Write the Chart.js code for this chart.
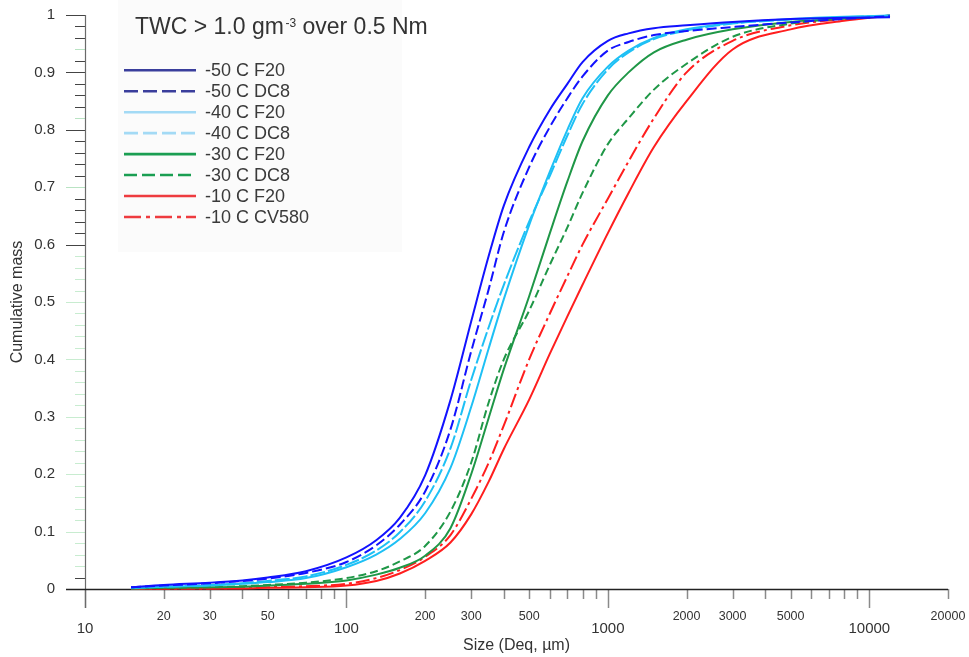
<!DOCTYPE html>
<html>
<head>
<meta charset="utf-8">
<script src="https://cdn.jsdelivr.net/npm/chart.js@4.4.0/dist/chart.umd.min.js"></script>
<style>
  html, body { margin: 0; padding: 0; background: #fff; }
</style>
</head>
<body>
<canvas id="chart" width="969" height="657"></canvas>
<script>
// particle size (Deq, µm) shared by every curve
const sizes = [15, 20, 30, 40, 50, 70, 100, 130, 160, 200, 250, 300, 350, 400, 500, 600, 700, 800, 1000, 1200, 1500, 2000, 3000, 5000, 8000, 12000];

// cumulative mass
const m50F20  = [0.003, 0.007, 0.011, 0.015, 0.020, 0.031, 0.055, 0.085, 0.124, 0.198, 0.329, 0.466, 0.580, 0.668, 0.770, 0.835, 0.880, 0.918, 0.955, 0.968, 0.977, 0.982, 0.988, 0.993, 0.995, 0.996];
const m50DC8  = [0.003, 0.006, 0.010, 0.014, 0.018, 0.028, 0.047, 0.076, 0.112, 0.170, 0.278, 0.414, 0.522, 0.622, 0.735, 0.805, 0.855, 0.893, 0.938, 0.953, 0.965, 0.972, 0.979, 0.987, 0.993, 0.998];
const m40F20  = [0.002, 0.004, 0.006, 0.009, 0.012, 0.019, 0.038, 0.060, 0.087, 0.132, 0.211, 0.317, 0.419, 0.505, 0.634, 0.727, 0.800, 0.855, 0.910, 0.938, 0.960, 0.975, 0.986, 0.993, 0.997, 0.999];
const m40DC8  = [0.002, 0.004, 0.007, 0.010, 0.014, 0.022, 0.042, 0.067, 0.099, 0.153, 0.245, 0.364, 0.456, 0.530, 0.640, 0.720, 0.790, 0.845, 0.905, 0.935, 0.958, 0.973, 0.985, 0.992, 0.996, 0.999];
const m30F20  = [0.001, 0.002, 0.003, 0.004, 0.006, 0.009, 0.015, 0.025, 0.037, 0.058, 0.106, 0.200, 0.298, 0.383, 0.510, 0.620, 0.710, 0.780, 0.860, 0.900, 0.935, 0.957, 0.975, 0.988, 0.994, 0.998];
const m30DC8  = [0.001, 0.002, 0.003, 0.005, 0.007, 0.011, 0.019, 0.031, 0.048, 0.075, 0.135, 0.220, 0.325, 0.400, 0.485, 0.565, 0.630, 0.690, 0.775, 0.820, 0.870, 0.915, 0.962, 0.985, 0.994, 0.999];
const m10F20  = [0.000, 0.001, 0.001, 0.001, 0.002, 0.003, 0.006, 0.014, 0.027, 0.049, 0.081, 0.130, 0.187, 0.244, 0.330, 0.410, 0.475, 0.530, 0.620, 0.690, 0.770, 0.850, 0.940, 0.975, 0.990, 0.999];
const m10CV580 = [0.000, 0.001, 0.001, 0.002, 0.003, 0.005, 0.009, 0.019, 0.033, 0.056, 0.094, 0.157, 0.220, 0.285, 0.400, 0.480, 0.545, 0.600, 0.680, 0.745, 0.820, 0.900, 0.955, 0.982, 0.993, 0.999];

// axis ticks and labels
const xTicks = [10, 20, 30, 40, 50, 60, 70, 80, 90, 100, 200, 300, 400, 500, 600, 700, 800, 900,
                1000, 2000, 3000, 4000, 5000, 6000, 7000, 8000, 9000, 10000, 20000];
const xMajorLabels = [10, 100, 1000, 10000];
const xMinorLabels = [20, 30, 50, 200, 300, 500, 2000, 3000, 5000, 20000];
const yTickLabels = ['0', '0.1', '0.2', '0.3', '0.4', '0.5', '0.6', '0.7', '0.8', '0.9', '1'];
const yMinorStep = 0.02;

const titleParts = ['TWC > 1.0 gm', '-3', ' over 0.5 Nm'];

const FONT = '"Liberation Sans", Arial, sans-serif';
Chart.defaults.font.family = FONT;

const pts = vals => sizes.map((s, i) => ({x: s, y: vals[i]}));

const line = (label, vals, color, dash, legendColor, legendDash) => ({
  label, data: pts(vals),
  borderColor: color, borderDash: dash, borderWidth: 2,
  legendColor, legendDash,
  pointRadius: 0, cubicInterpolationMode: 'monotone', fill: false, clip: false
});

const datasets = [
  line('-50 C F20',   m50F20,   '#1212ff', [],            '#3a3e9c', []),
  line('-50 C DC8',   m50DC8,   '#1212ff', [10, 4],       '#3a3e9c', [14, 5]),
  line('-40 C F20',   m40F20,   '#1ec0f5', [],            '#a3daf5', []),
  line('-40 C DC8',   m40DC8,   '#1ec0f5', [15, 3],       '#a3daf5', [14, 5]),
  line('-30 C F20',   m30F20,   '#1f9747', [],            '#1a9e52', []),
  line('-30 C DC8',   m30DC8,   '#1f9747', [8, 4],        '#1a9e52', [13, 5]),
  line('-10 C F20',   m10F20,   '#ff1e1e', [],            '#ee3b3f', []),
  line('-10 C CV580', m10CV580, '#ff1e1e', [14, 4, 3, 4], '#ee3b3f', [17, 5, 4, 5])
];

const isTenth = v => Math.abs(v * 10 - Math.round(v * 10)) < 1e-6;
const yTickColor = v => {
  if (v < 0.03) return '#444';
  if (v < 0.59) return '#c8ecd0';
  if ([0.94, 0.82, 0.7].some(g => Math.abs(g - v) < 1e-6)) return '#b9e3c3';
  return '#444';
};

const noPad = s => { s.paddingTop = 0; s.paddingBottom = 0; s.paddingLeft = 0; s.paddingRight = 0; };

const axesPlugin = {
  id: 'axesPlugin',
  beforeDatasetsDraw(chart) {
    const {ctx, chartArea: a, scales: {x, y}} = chart;
    ctx.save();
    // legend backdrop
    ctx.fillStyle = '#fbfbfb';
    ctx.fillRect(a.left + 33, 0, 284, 252);
    ctx.lineWidth = 1;
    // y ticks
    y.ticks.forEach(t => {
      const py = Math.round(y.getPixelForValue(t.value)) + 0.5;
      ctx.strokeStyle = yTickColor(t.value);
      ctx.beginPath();
      ctx.moveTo(a.left - (isTenth(t.value) ? 19 : 10), py);
      ctx.lineTo(a.left, py);
      ctx.stroke();
    });
    // x ticks
    ctx.strokeStyle = '#8a8a8a';
    ctx.lineWidth = 1.5;
    x.ticks.forEach(t => {
      const px = Math.round(x.getPixelForValue(t.value)) + 0.5;
      ctx.beginPath();
      ctx.moveTo(px, a.bottom);
      ctx.lineTo(px, a.bottom + (xMajorLabels.includes(t.value) ? 19 : 10));
      ctx.stroke();
    });
    // y axis line
    ctx.strokeStyle = '#6a6a6a';
    ctx.lineWidth = 1.2;
    ctx.beginPath();
    ctx.moveTo(a.left + 0.5, a.top);
    ctx.lineTo(a.left + 0.5, a.bottom + 19);
    ctx.stroke();
    // x axis line
    ctx.strokeStyle = '#222';
    ctx.lineWidth = 1.5;
    ctx.beginPath();
    ctx.moveTo(a.left - 19, a.bottom + 0.5);
    ctx.lineTo(a.right, a.bottom + 0.5);
    ctx.stroke();
    ctx.restore();
  },
  afterDraw(chart) {
    const {ctx, chartArea: a} = chart;
    ctx.save();
    // title with superscript
    ctx.fillStyle = '#333';
    ctx.textBaseline = 'alphabetic';
    let tx = a.left + 50;
    const ty = 33.5;
    ctx.font = '23px ' + FONT;
    ctx.fillText(titleParts[0], tx, ty);
    tx += ctx.measureText(titleParts[0]).width + 1.5;
    ctx.font = '12px ' + FONT;
    ctx.fillText(titleParts[1], tx, ty - 7);
    tx += ctx.measureText(titleParts[1]).width;
    ctx.font = '23px ' + FONT;
    ctx.fillText(titleParts[2], tx, ty);

    // legend
    const lx = a.left + 39, lw = 72, textX = a.left + 120;
    ctx.font = '18px ' + FONT;
    ctx.textBaseline = 'middle';
    chart.data.datasets.forEach((ds, i) => {
      const ly = 70.3 + i * 20.95;
      ctx.strokeStyle = ds.legendColor;
      ctx.lineWidth = 2.6;
      ctx.setLineDash(ds.legendDash);
      ctx.beginPath();
      ctx.moveTo(lx, ly);
      ctx.lineTo(lx + lw, ly);
      ctx.stroke();
      ctx.setLineDash([]);
      ctx.fillStyle = '#3a3a3a';
      ctx.fillText(ds.label, textX, ly + 1);
    });
    ctx.restore();
  }
};

new Chart(document.getElementById('chart'), {
  type: 'line',
  data: {datasets},
  plugins: [axesPlugin],
  options: {
    responsive: false,
    animation: false,
    layout: {padding: {top: 15, right: 21, left: 0, bottom: 0}},
    plugins: {legend: {display: false}, tooltip: {enabled: false}},
    scales: {
      x: {
        type: 'logarithmic',
        min: 10, max: 20000,
        border: {display: false},
        grid: {display: false, drawTicks: false},
        afterFit: s => { s.height = 68; noPad(s); },
        afterBuildTicks: s => { s.ticks = xTicks.map(v => ({value: v})); },
        ticks: {
          autoSkip: false, maxRotation: 0, padding: 20,
          color: '#333',
          font: c => xMajorLabels.includes(c.tick && c.tick.value)
            ? {size: 15, lineHeight: 0.88}
            : {size: 12.5, lineHeight: 1.2},
          callback: v => xMajorLabels.includes(v) ? ['', String(v)]
                       : xMinorLabels.includes(v) ? String(v) : ''
        },
        title: {display: true, text: 'Size (Deq, µm)', color: '#333',
                font: {size: 16}, padding: {top: 0, bottom: 2}}
      },
      y: {
        min: 0, max: 1,
        border: {display: false},
        grid: {display: false, drawTicks: false},
        afterFit: s => { s.width = 85; noPad(s); },
        afterBuildTicks: s => {
          const t = [];
          for (let i = 0; i * yMinorStep <= 1 + 1e-9; i++) t.push({value: +(i * yMinorStep).toFixed(2)});
          s.ticks = t;
        },
        ticks: {
          autoSkip: false, padding: 30, color: '#333',
          font: {size: 15},
          callback: v => isTenth(v) ? yTickLabels[Math.round(v * 10)] : ''
        },
        title: {display: true, text: 'Cumulative mass', color: '#333',
                font: {size: 16}, padding: {top: 8, bottom: 0}}
      }
    }
  }
});
</script>
</body>
</html>
